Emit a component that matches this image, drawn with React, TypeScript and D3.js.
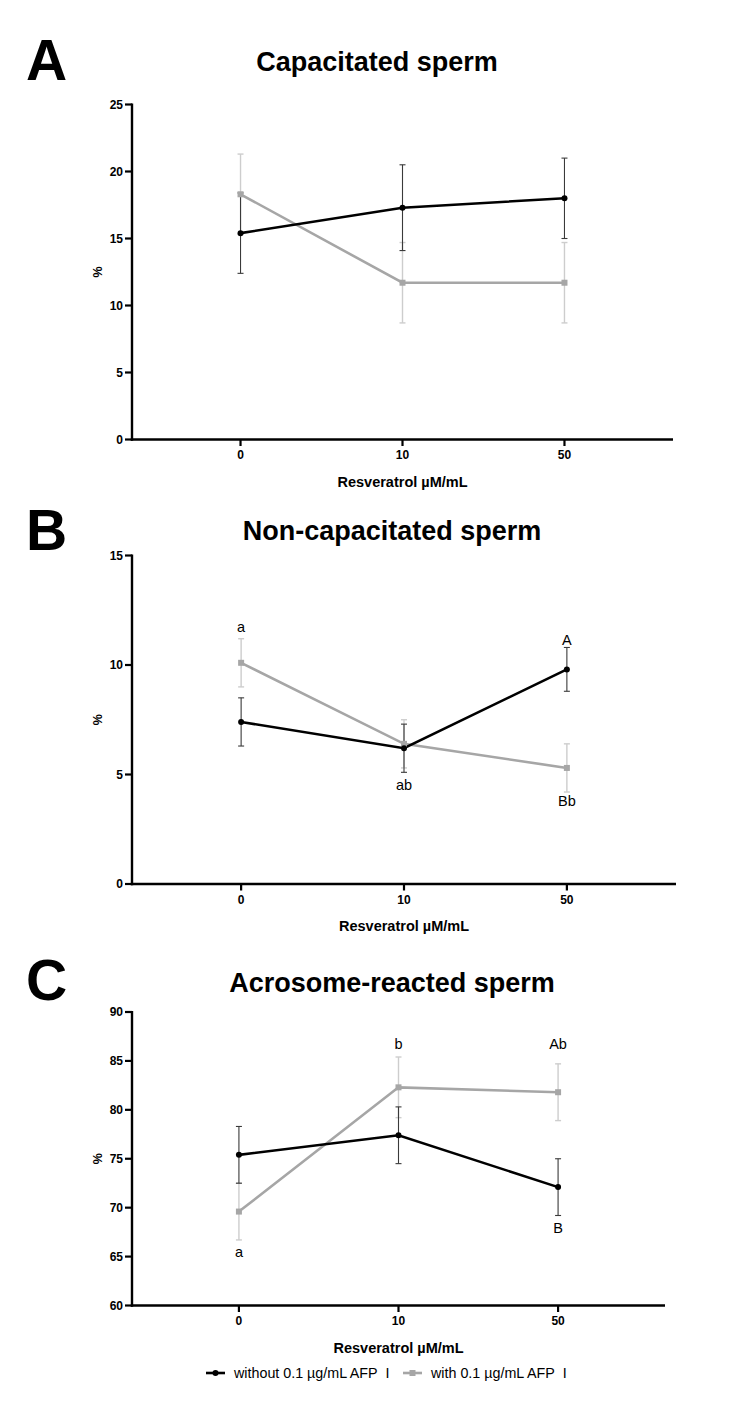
import React from 'react'
import * as d3 from 'd3'

// Resveratrol doses (x categories)
const doses = ['0', '10', '50']

// Capacitated sperm (%), mean and error
const capWithoutMean = [15.4, 17.3, 18.0]
const capWithoutErr = [3.0, 3.2, 3.0]
const capWithMean = [18.3, 11.7, 11.7]
const capWithErr = [3.0, 3.0, 3.0]

// Non-capacitated sperm (%)
const nonWithoutMean = [7.4, 6.2, 9.8]
const nonWithoutErr = [1.1, 1.1, 1.0]
const nonWithMean = [10.1, 6.4, 5.3]
const nonWithErr = [1.1, 1.1, 1.1]

// Acrosome-reacted sperm (%)
const arWithoutMean = [75.4, 77.4, 72.1]
const arWithoutErr = [2.9, 2.9, 2.9]
const arWithMean = [69.6, 82.3, 81.8]
const arWithErr = [2.9, 3.1, 2.9]

// significance letters: dose, text, y value where the text sits
const nonLetters = [
  { dose: '0', text: 'a', y: 11.5 },
  { dose: '10', text: 'ab', y: 4.3 },
  { dose: '50', text: 'A', y: 10.9 },
  { dose: '50', text: 'Bb', y: 3.55 },
]
const arLetters = [
  { dose: '0', text: 'a', y: 65.0 },
  { dose: '10', text: 'b', y: 86.2 },
  { dose: '50', text: 'Ab', y: 86.2 },
  { dose: '50', text: 'B', y: 67.4 },
]

const seriesNames = ['without 0.1 µg/mL AFP\u00a0\u00a0I', 'with 0.1 µg/mL AFP\u00a0\u00a0I']

const FONT = '"Liberation Sans", Arial, Helvetica, sans-serif'
const BLACK = '#000000'
const GREY = '#a6a6a6'
const BLACK_ERR = '#3a3a3a'
const GREY_ERR = '#cdcdcd'

interface Letter { dose: string; text: string; y: number }

interface PanelProps {
  letter: string;
  title: string;
  titleX: number;
  titleY: number;
  letterY: number;
  top: number;
  bottom: number;
  xEnd: number;
  domain: [number, number];
  tickStep: number;
  withoutMean: number[];
  withoutErr: number[];
  withMean: number[];
  withErr: number[];
  letters?: Letter[];
}

function Panel(p: PanelProps) {
  const left = 132
  const x = d3.scalePoint<string>().domain(doses).range([left, p.xEnd]).padding(0.67)
  const y = d3.scaleLinear().domain(p.domain).range([p.bottom, p.top])
  const ticks = d3.range(p.domain[0], p.domain[1] + 0.001, p.tickStep)

  const line = d3.line<number>()
    .x((_, i) => x(doses[i])!)
    .y(d => y(d))

  const errBars = (mean: number[], err: number[], color: string, w: number) =>
    mean.map((m, i) => {
      const cx = x(doses[i])!
      const y1 = y(m + err[i])
      const y2 = y(m - err[i])
      return (
        <g key={i} stroke={color} strokeWidth={w}>
          <line x1={cx} x2={cx} y1={y1} y2={y2} />
          <line x1={cx - 3} x2={cx + 3} y1={y1} y2={y1} />
          <line x1={cx - 3} x2={cx + 3} y1={y2} y2={y2} />
        </g>
      )
    })

  return (
    <g fontFamily={FONT}>
      <text x={26} y={p.letterY} fontSize={57} fontWeight="bold">{p.letter}</text>
      <text x={p.titleX} y={p.titleY} fontSize={27} fontWeight="bold" textAnchor="middle">{p.title}</text>

      {/* y axis */}
      <line x1={left} x2={left} y1={p.top - 1} y2={p.bottom + 1.2} stroke="#000" strokeWidth={2.4} />
      {ticks.map(t => (
        <g key={t}>
          <line x1={left - 7} x2={left} y1={y(t)} y2={y(t)} stroke="#000" strokeWidth={2.2} />
          <text x={left - 9} y={y(t)} dy="0.35em" fontSize={12} fontWeight="bold" textAnchor="end">{t}</text>
        </g>
      ))}
      <text transform={`translate(102,${(p.top + p.bottom) / 2}) rotate(-90)`} fontSize={12.5} fontWeight="bold" textAnchor="middle">%</text>

      {/* x axis */}
      <line x1={left - 1.2} x2={p.xEnd} y1={p.bottom} y2={p.bottom} stroke="#000" strokeWidth={2.4} />
      {doses.map(d => (
        <g key={d}>
          <line x1={x(d)} x2={x(d)} y1={p.bottom} y2={p.bottom + 6.5} stroke="#000" strokeWidth={2.2} />
          <text x={x(d)} y={p.bottom + 19.5} fontSize={12} fontWeight="bold" textAnchor="middle">{d}</text>
        </g>
      ))}
      <text x={(left + p.xEnd) / 2} y={p.bottom + 47} fontSize={14.5} fontWeight="bold" textAnchor="middle">Resveratrol µM/mL</text>

      {/* error bars */}
      {errBars(p.withMean, p.withErr, GREY_ERR, 1.4)}
      {errBars(p.withoutMean, p.withoutErr, BLACK_ERR, 1.1)}

      {/* lines */}
      <path d={line(p.withMean) ?? ''} fill="none" stroke={GREY} strokeWidth={2.6} />
      <path d={line(p.withoutMean) ?? ''} fill="none" stroke={BLACK} strokeWidth={2.6} />

      {/* markers */}
      {p.withMean.map((m, i) => (
        <rect key={i} x={x(doses[i])! - 3} y={y(m) - 3} width={6} height={6} fill={GREY} />
      ))}
      {p.withoutMean.map((m, i) => (
        <circle key={i} cx={x(doses[i])} cy={y(m)} r={3} fill={BLACK} />
      ))}

      {(p.letters ?? []).map((l, i) => (
        <text key={i} x={x(l.dose)} y={y(l.y)} fontSize={14.5} textAnchor="middle">{l.text}</text>
      ))}
    </g>
  )
}

function Legend({ y }: { y: number }) {
  return (
    <g fontFamily={FONT} fontSize={14.3}>
      <line x1={206} x2={225} y1={y} y2={y} stroke={BLACK} strokeWidth={2.6} />
      <circle cx={215.5} cy={y} r={3} fill={BLACK} />
      <text x={234} y={y} dy="0.35em">{seriesNames[0]}</text>
      <line x1={403} x2={422} y1={y} y2={y} stroke={GREY} strokeWidth={2.6} />
      <rect x={409.5} y={y - 3} width={6} height={6} fill={GREY} />
      <text x={431} y={y} dy="0.35em">{seriesNames[1]}</text>
    </g>
  )
}

export default function App() {
  return (
    <svg width={742} height={1421} style={{ position: 'absolute', left: 0, top: 0, background: '#fff' }}>
      <rect width={742} height={1421} fill="#fff" />
      <Panel
        letter="A" title="Capacitated sperm" titleX={377} titleY={71} letterY={80}
        top={104.5} bottom={439.5} xEnd={673} domain={[0, 25]} tickStep={5}
        withoutMean={capWithoutMean} withoutErr={capWithoutErr}
        withMean={capWithMean} withErr={capWithErr}
      />
      <Panel
        letter="B" title="Non-capacitated sperm" titleX={392} titleY={540} letterY={550}
        top={555.5} bottom={884} xEnd={676} domain={[0, 15]} tickStep={5}
        withoutMean={nonWithoutMean} withoutErr={nonWithoutErr}
        withMean={nonWithMean} withErr={nonWithErr} letters={nonLetters}
      />
      <Panel
        letter="C" title="Acrosome-reacted sperm" titleX={392} titleY={992} letterY={1000}
        top={1012} bottom={1305.5} xEnd={665} domain={[60, 90]} tickStep={5}
        withoutMean={arWithoutMean} withoutErr={arWithoutErr}
        withMean={arWithMean} withErr={arWithErr} letters={arLetters}
      />
      <Legend y={1373} />
    </svg>
  )
}
